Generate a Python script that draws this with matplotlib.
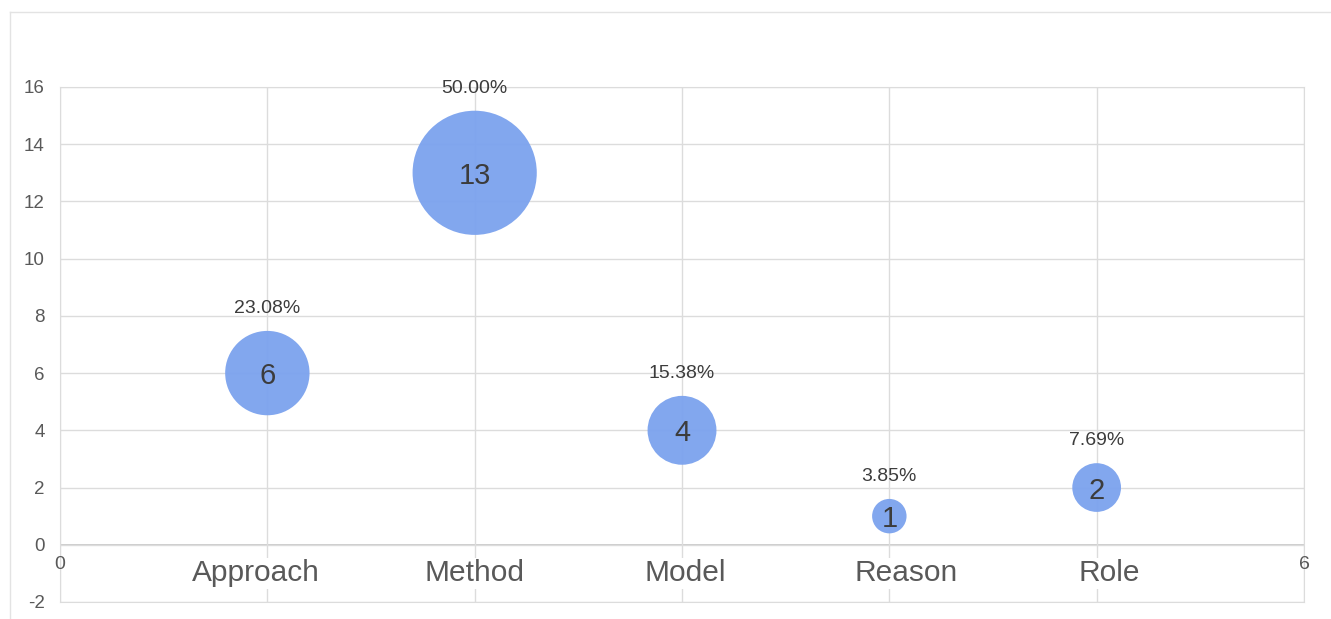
import numpy as np
import matplotlib.pyplot as plt
from matplotlib.lines import Line2D

categories = ['Approach', 'Method', 'Model', 'Reason', 'Role']
counts = [6, 13, 4, 1, 2]
percents = ['23.08%', '50.00%', '15.38%', '3.85%', '7.69%']

# small horizontal nudges (points) for the category labels
label_nudge = [-8, 0, 2, 12, 9]

plt.rcParams['font.family'] = ['Liberation Sans', 'DejaVu Sans']
plt.rcParams['axes.unicode_minus'] = False

fig = plt.figure(figsize=(13.31, 6.19), dpi=100)
ax = fig.add_axes([0.0451, 0.0275, 0.9346, 0.832])

# light frame around the chart container
fig.add_artist(Line2D([0.0075, 0.0075], [0, 0.981], transform=fig.transFigure, color='#e3e3e3', lw=1))
fig.add_artist(Line2D([0.0075, 1], [0.981, 0.981], transform=fig.transFigure, color='#e3e3e3', lw=1))

x = np.arange(1, len(categories) + 1)
# bubble area proportional to count
sizes = [615 * c for c in counts]
ax.scatter(x, counts, s=sizes, color='#7ba2ee', alpha=0.95, edgecolors='none', zorder=3)

for xi, c, p in zip(x, counts, percents):
    ax.text(xi, c, str(c), ha='center', va='center_baseline', fontsize=21, color='#3c3c3c', zorder=4)
    r = 12.4 * np.sqrt(c)
    ax.annotate(p, (xi, c), xytext=(0, r + 16), textcoords='offset points',
                ha='center', va='center', fontsize=14, color='#3c3c3c', zorder=4)

ax.set_xlim(0, 6)
ax.set_ylim(-2, 16)
ax.set_yticks(range(-2, 17, 2))
ax.set_xticks(range(0, 7))
ax.set_xticklabels([])
ax.grid(True, color='#dcdcdc', lw=1, zorder=0)
ax.axhline(0, color='#c4c4c4', lw=1.2, zorder=1)
for s in ax.spines.values():
    s.set_color('#dcdcdc')
ax.tick_params(length=0, labelsize=13.5, colors='#595959', pad=11)

# x tick labels sit just under the zero line
ax.text(0, -0.7, '0', ha='center', va='center', fontsize=14, color='#595959')
ax.text(6, -0.7, '6', ha='center', va='center', fontsize=14, color='#595959')
for xi, name, dx in zip(x, categories, label_nudge):
    ax.annotate(name, (xi, -1.0), xytext=(dx, 0), textcoords='offset points',
                ha='center', va='center', fontsize=21.5, color='#595959',
                bbox=dict(facecolor='white', edgecolor='none', pad=1), zorder=2)

fig.savefig('out.png', dpi=100)
